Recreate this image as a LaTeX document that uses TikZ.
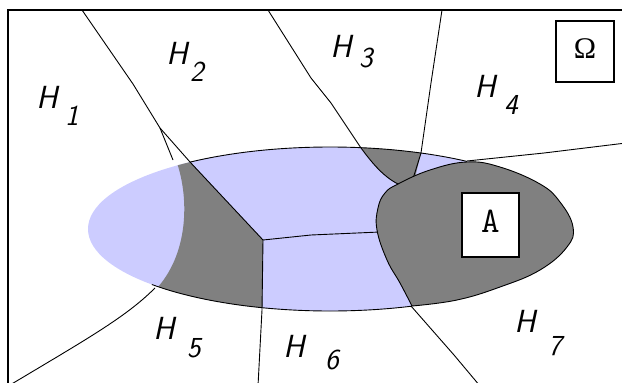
\documentclass[tikz,border=0pt]{standalone}
\usepackage{fontspec}
\newfontfamily\omegafont{Liberation Serif}
\usepackage{tikz}
\usetikzlibrary{positioning, calc}
\definecolor{bluefill}{HTML}{CCCCFF}
\definecolor{grayfill}{HTML}{808080}

\begin{document}
\begin{tikzpicture}[x=1pt, y=-1pt,
    bd/.style={draw=black, line width=0.9pt, line join=round},
    hl/.style={font=\fontsize{32}{32}\selectfont\sffamily\itshape, inner sep=0pt},
    sub/.style={font=\fontsize{29}{29}\selectfont\sffamily\itshape, inner sep=0pt},
    box/.style={draw, line width=1.1pt, fill=white, inner sep=0pt},
]
\useasboundingbox (0,0) rectangle (622,383);
\clip (0,0) rectangle (622,383);

% key points
\coordinate (mid) at (263,240);
\coordinate (d1) at (190,162);
\coordinate (kink) at (160,128);
\coordinate (j23) at (361,148);
\coordinate (j34) at (421,153);
\coordinate (j47) at (467,161);
\coordinate (b5) at (155,288);
\coordinate (b7) at (411,306);

% the ellipse
\fill[bluefill] (330,229) ellipse [x radius=242, y radius=82];
\begin{scope}
  \clip (330,229) ellipse [x radius=242, y radius=82];
  \fill[grayfill] (170,140) -- (177,163) .. controls (188,195) and (190,250) .. (158,287)
      -- (150,330) -- (262,330) -- (mid) -- (d1) -- (190,140) -- cycle;
  \fill[grayfill] (355,138) -- (j23) .. controls (370,160) and (382,176) .. (398,184)
      -- (412,190) -- (j34) -- (423,138) -- cycle;
\end{scope}

% boundaries of the H regions
\draw[bd] (82,10) -- (133,84) -- (kink) -- (173,160);
\draw[bd] (kink) -- (d1) -- (mid);
\draw[bd] (mid) -- (262,310) -- (258,386);
\draw[bd] (mid) -- (311,235) -- (380,232);
\draw[bd] (268,10) -- (311,78) -- (331,103) -- (j23) .. controls (370,160) and (382,176) .. (398,184);
\draw[bd] (442,10) -- (431,83) -- (j34) -- (412,182);
\draw[bd] (330,229) ++(-125.3:242 and 82) arc[start angle=-125.3, end angle=-55.5, x radius=242, y radius=82];
\draw[bd] (330,229) ++(137.4:242 and 82) arc[start angle=137.4, end angle=70.2, x radius=242, y radius=82];
\draw[bd] (b5) .. controls (125,318) and (85,340) .. (5,388);
\draw[bd] (j47) -- (544,153) -- (626,143);
\draw[bd] (b7) -- (454,355) -- (480,386);

% region A
\filldraw[bd, fill=grayfill] plot[smooth, tension=0.7] coordinates {
  (412,306) (400,283) (387,260) (377,230) (378,208) (385,193) (398,184)
  (430,170) (467,162) (500,167) (540,184) (560,202) (573,227) (567,247)
  (540,270) (500,287) (457,300) (412,306)} -- cycle;

\node[box, minimum width=57pt, minimum height=64pt, text depth=8pt,
      font=\fontsize{36}{36}\selectfont\ttfamily] (a) at (490.5,225) {A};
\node[box, minimum width=58pt, minimum height=61pt, text depth=5pt,
      font=\fontsize{30}{30}\selectfont\omegafont] (omega) at (585,51.5) {Ω};

% labels
\foreach \n/\hx/\hy/\sx/\sy in {1/47/97/72/116, 2/177/53/197/72, 3/341/46/366/58,
    4/485/86/511/105, 5/164/328/194/348, 6/294/346/332/360, 7/525/321/555/346}{
  \node[hl] (h\n) at (\hx,\hy) {H};
  \node[sub] (s\n) at (\sx,\sy) {\n};
}

\draw[line width=1.8pt] (8,10) rectangle (640,400);
\end{tikzpicture}
\end{document}
